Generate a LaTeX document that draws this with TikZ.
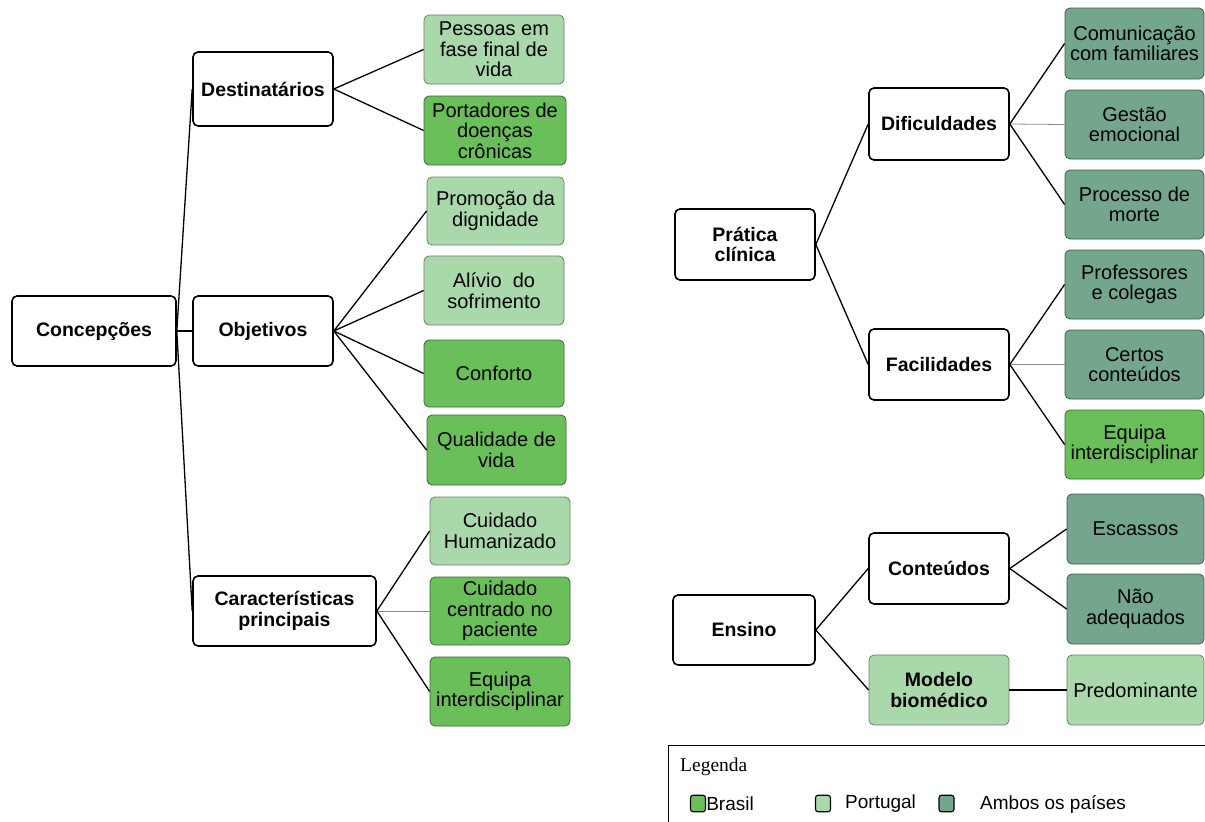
\documentclass[tikz,border=0pt]{standalone}
\usepackage{fontspec}
\setmainfont{Liberation Sans}
\newfontfamily\legserif{Liberation Serif}
\definecolor{cbr}{HTML}{6ABF5A}
\definecolor{cpt}{HTML}{A9D8AB}
\definecolor{camb}{HTML}{74A68E}
\tikzset{
  box/.style={rounded corners=5pt, align=center, inner sep=1pt, font=\fontsize{20}{20.5}\selectfont},
  wbox/.style={box, draw=black, line width=1.6pt, fill=white, font=\bfseries\fontsize{19.5}{20.5}\selectfont},
  brbox/.style={box, fill=cbr, draw=cbr!55!black, line width=0.8pt},
  ptbox/.style={box, fill=cpt, draw=cpt!60!black, line width=0.8pt},
  ambbox/.style={box, fill=camb, draw=camb!55!black, line width=0.8pt},
  link/.style={line width=1.3pt, black},
  glink/.style={line width=0.8pt, black!45},
  sq/.style={rounded corners=2.5pt, draw=black, line width=1.1pt, minimum width=15pt, minimum height=16.5pt, inner sep=0pt},
}
\begin{document}
\begin{tikzpicture}[x=1pt,y=-1pt]
\useasboundingbox (0,0) rectangle (1205,822);
% ---------- left tree ----------
\node[wbox, minimum width=164pt, minimum height=70pt] (conc) at (94,331) {Concepções};
\node[wbox, minimum width=140pt, minimum height=74pt] (dest) at (263,89) {Destinatários};
\node[wbox, minimum width=140pt, minimum height=70pt] (obj) at (263,331) {Objetivos};
\node[wbox, minimum width=183pt, minimum height=70pt] (car) at (284.5,611) {Características\\principais};

\node[ptbox, minimum width=140pt, minimum height=69pt] (p1) at (494,49.5) {Pessoas em\\fase final de\\vida};
\node[brbox, minimum width=142pt, minimum height=69pt] (p2) at (495,130.5) {Portadores de\\doenças\\crônicas};
\node[ptbox, minimum width=137pt, minimum height=68pt] (o1) at (495.5,211) {Promoção da\\dignidade};
\node[ptbox, minimum width=140pt, minimum height=69pt] (o2) at (494,290.5) {Alívio \ do\\sofrimento};
\node[brbox, minimum width=140pt, minimum height=67pt] (o3) at (494,373.5) {Conforto};
\node[brbox, minimum width=139pt, minimum height=70pt] (o4) at (496.5,450) {Qualidade de\\vida};
\node[ptbox, minimum width=140pt, minimum height=68pt] (c1) at (500,531) {Cuidado\\Humanizado};
\node[brbox, minimum width=140pt, minimum height=68pt] (c2) at (500,611) {Cuidado\\centrado no\\paciente};
\node[brbox, minimum width=140pt, minimum height=69pt] (c3) at (500,691.5) {Equipa\\interdisciplinar};

\draw[link] (conc.east) -- (dest.west);
\draw[link] (conc.east) -- (obj.west);
\draw[link] (conc.east) -- (car.west);
\draw[link] (dest.east) -- (p1.west);
\draw[link] (dest.east) -- (p2.west);
\draw[link] (obj.east) -- (o1.west);
\draw[link] (obj.east) -- (o2.west);
\draw[link] (obj.east) -- (o3.west);
\draw[link] (obj.east) -- (o4.west);
\draw[link] (car.east) -- (c1.west);
\draw[glink] (car.east) -- (c2.west);
\draw[link] (car.east) -- (c3.west);

% ---------- right tree ----------
\node[wbox, minimum width=140pt, minimum height=71pt] (prat) at (745,244.5) {Prática\\clínica};
\node[wbox, minimum width=140pt, minimum height=72pt] (dif) at (939,124) {Dificuldades};
\node[wbox, minimum width=140pt, minimum height=71pt] (fac) at (939,364.5) {Facilidades};
\node[ambbox, minimum width=139pt, minimum height=71pt] (d1) at (1134.5,43.5) {Comunicação\\com familiares};
\node[ambbox, minimum width=139pt, minimum height=69pt] (d2) at (1134.5,124.5) {Gestão\\emocional};
\node[ambbox, minimum width=139pt, minimum height=69pt] (d3) at (1134.5,204.5) {Processo de\\morte};
\node[ambbox, minimum width=139pt, minimum height=69pt] (f1) at (1134.5,284.5) {Professores\\e colegas};
\node[ambbox, minimum width=139pt, minimum height=69pt] (f2) at (1134.5,364.5) {Certos\\conteúdos};
\node[brbox, minimum width=139pt, minimum height=69pt] (f3) at (1134.5,444.5) {Equipa\\interdisciplinar};

\node[wbox, minimum width=142pt, minimum height=70pt] (ens) at (744,630) {Ensino};
\node[wbox, minimum width=140pt, minimum height=71pt] (cont) at (939,568.5) {Conteúdos};
\node[ptbox, minimum width=140pt, minimum height=70pt, font=\bfseries\fontsize{19.5}{20.5}\selectfont] (mod) at (939,690) {Modelo\\biomédico};
\node[ambbox, minimum width=137pt, minimum height=70pt] (e1) at (1135.5,529) {Escassos};
\node[ambbox, minimum width=137pt, minimum height=70pt] (e2) at (1135.5,609) {Não\\adequados};
\node[ptbox, minimum width=137pt, minimum height=70pt] (e3) at (1135.5,690) {Predominante};

\draw[link] (prat.east) -- (dif.west);
\draw[link] (prat.east) -- (fac.west);
\draw[link] (dif.east) -- (d1.west);
\draw[glink] (dif.east) -- (d2.west);
\draw[link] (dif.east) -- (d3.west);
\draw[link] (fac.east) -- (f1.west);
\draw[glink] (fac.east) -- (f2.west);
\draw[link] (fac.east) -- (f3.west);
\draw[link] (ens.east) -- (cont.west);
\draw[link] (ens.east) -- (mod.west);
\draw[link] (cont.east) -- (e1.west);
\draw[link] (cont.east) -- (e2.west);
\draw[link] (mod.east) -- (e3.west);

% ---------- legend ----------
\draw[line width=1pt] (1205,745) -- (668,745) -- (668,822);
\node[anchor=west, inner sep=0pt, font=\legserif\fontsize{19.5}{20}\selectfont] (leg) at (680,767) {Legenda};
\node[sq, fill=cbr] (sbr) at (698,803.5) {};
\node[anchor=west, inner sep=0pt, font=\fontsize{19}{20}\selectfont] (tbr) at (sbr.east) {Brasil};
\node[sq, fill=cpt] (spt) at (823,803.5) {};
\node[anchor=west, inner sep=0pt, font=\fontsize{19}{20}\selectfont] (tpt) at (845,804) {Portugal};
\node[sq, fill=camb] (samb) at (946.5,803.5) {};
\node[anchor=west, inner sep=0pt, font=\fontsize{19}{20}\selectfont] (tamb) at (980,804) {Ambos os países};
\end{tikzpicture}
\end{document}
